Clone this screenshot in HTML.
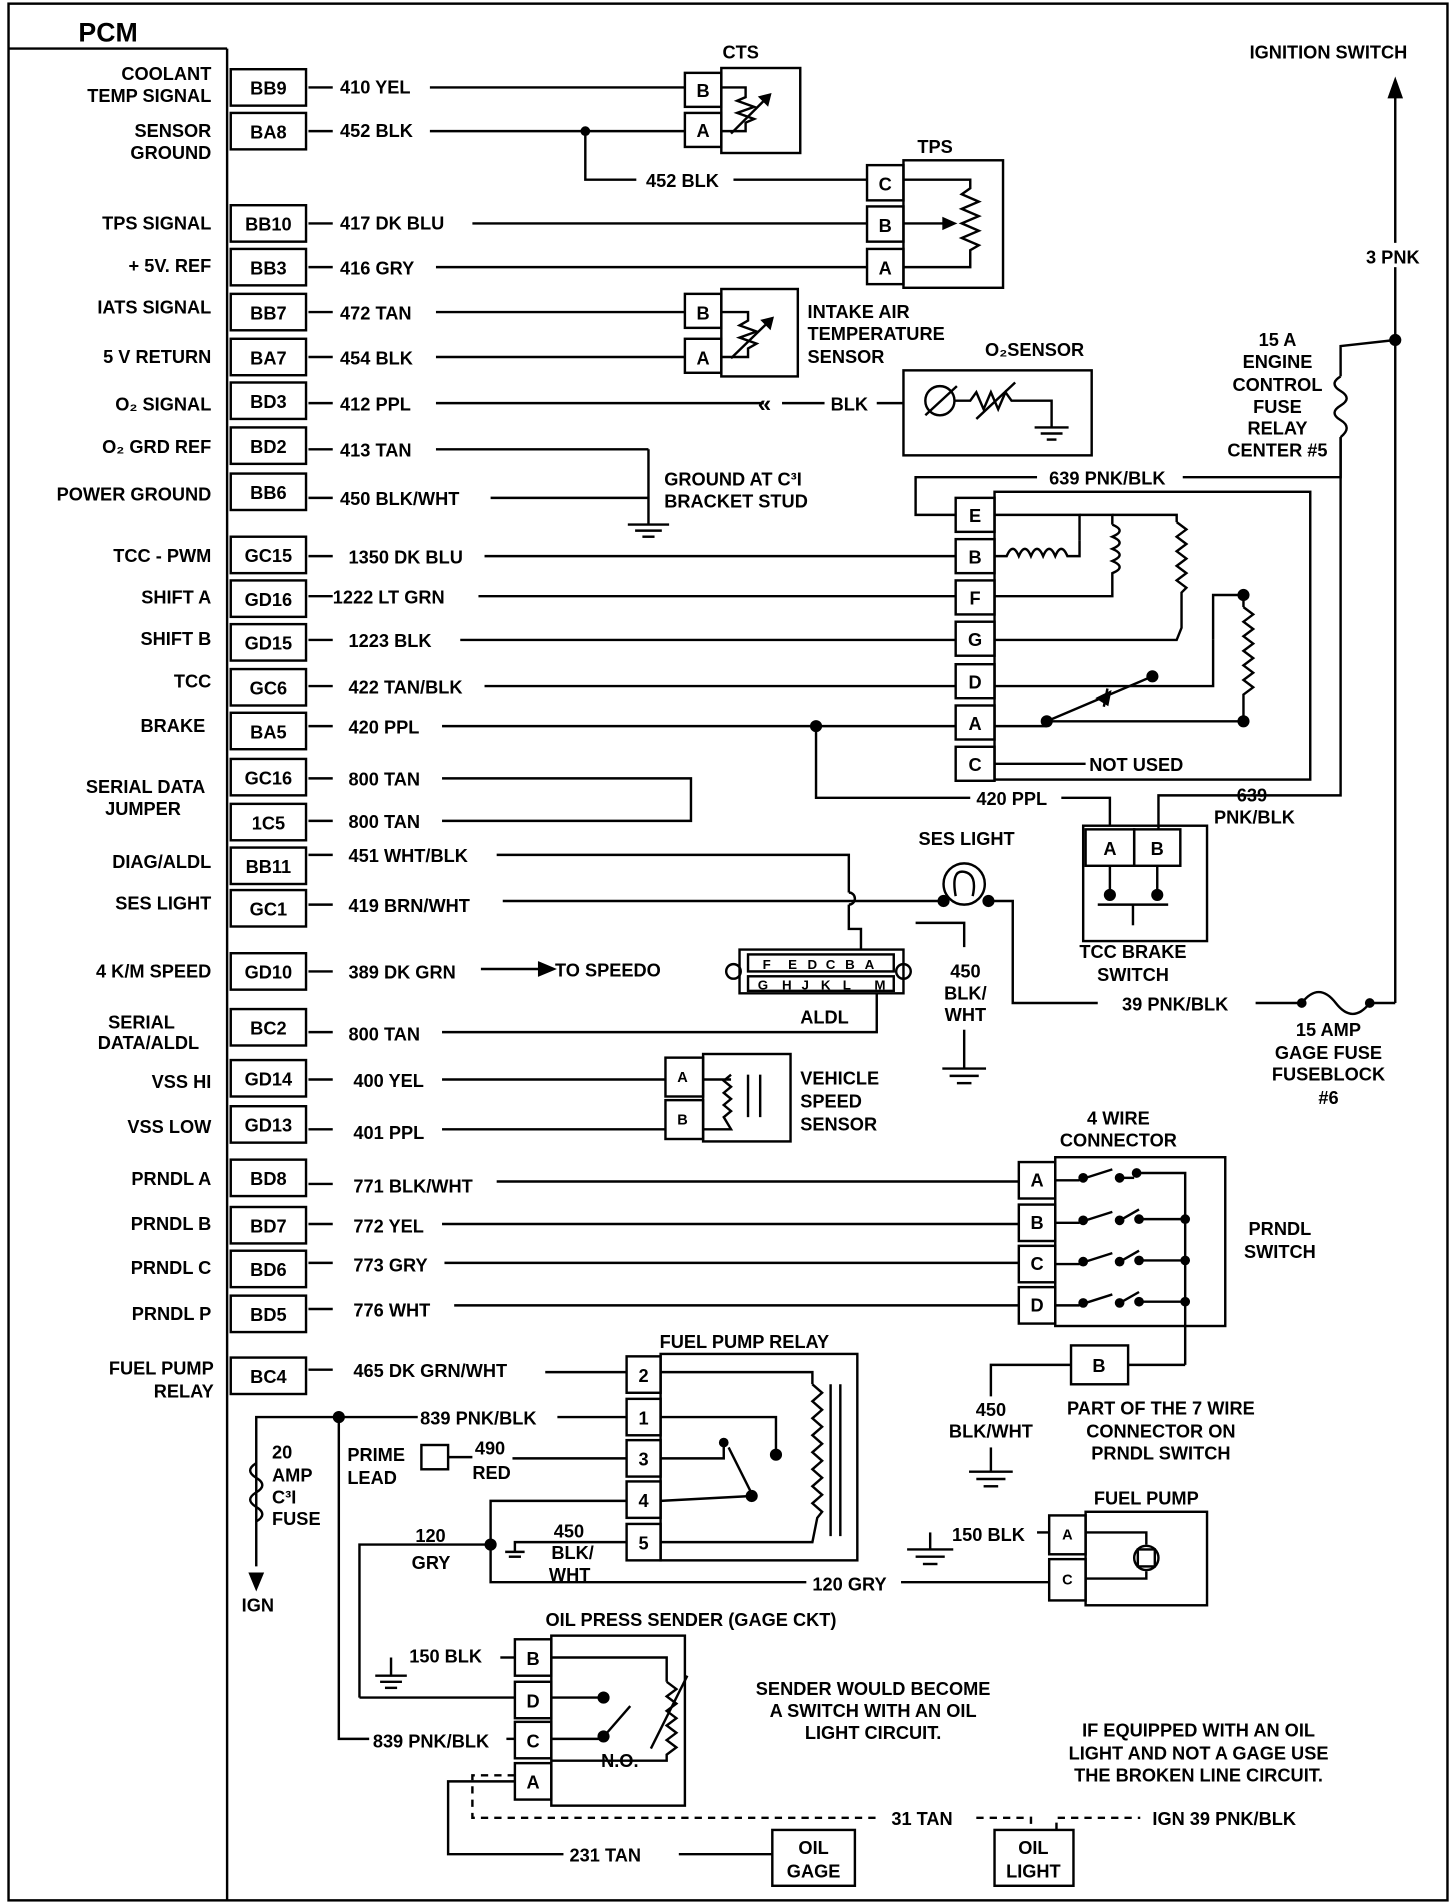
<!DOCTYPE html>
<html><head><meta charset="utf-8"><style>
html,body{margin:0;padding:0;background:#fff}
svg{display:block}
text{font-family:"Liberation Sans",sans-serif;font-weight:bold;font-size:15px;fill:#000}
.r{text-anchor:end}.m{text-anchor:middle}
line,polyline,path,rect,circle{stroke:#000;stroke-width:2;fill:none}
[fill="#000"]{fill:#000}
rect[stroke="none"]{stroke:none;fill:#fff}
.d{stroke-dasharray:6,5}
</style></head><body>
<svg width="1456" height="1904" viewBox="0 0 1191 1568" xmlns="http://www.w3.org/2000/svg">
<rect x="3" y="3" width="1185" height="1562" stroke-width="3"/>
<line x1="3" y1="40" x2="183" y2="40" stroke-width="3"/>
<line x1="183" y1="40" x2="183" y2="1565" stroke-width="3"/>
<text x="85" y="34" class="m" style="font-size:22px">PCM</text>
<g id="pins">
<rect x="186" y="57" width="62" height="30"/><text x="217" y="78" class="m">BB9</text>
<rect x="186" y="93" width="62" height="30"/><text x="217" y="114" class="m">BA8</text>
<rect x="186" y="169" width="62" height="30"/><text x="217" y="190" class="m">BB10</text>
<rect x="186" y="205" width="62" height="30"/><text x="217" y="226" class="m">BB3</text>
<rect x="186" y="242" width="62" height="30"/><text x="217" y="263" class="m">BB7</text>
<rect x="186" y="279" width="62" height="30"/><text x="217" y="300" class="m">BA7</text>
<rect x="186" y="315" width="62" height="30"/><text x="217" y="336" class="m">BD3</text>
<rect x="186" y="352" width="62" height="30"/><text x="217" y="373" class="m">BD2</text>
<rect x="186" y="390" width="62" height="30"/><text x="217" y="411" class="m">BB6</text>
<rect x="186" y="442" width="62" height="30"/><text x="217" y="463" class="m">GC15</text>
<rect x="186" y="478" width="62" height="30"/><text x="217" y="499" class="m">GD16</text>
<rect x="186" y="514" width="62" height="30"/><text x="217" y="535" class="m">GD15</text>
<rect x="186" y="551" width="62" height="30"/><text x="217" y="572" class="m">GC6</text>
<rect x="186" y="587" width="62" height="30"/><text x="217" y="608" class="m">BA5</text>
<rect x="186" y="625" width="62" height="30"/><text x="217" y="646" class="m">GC16</text>
<rect x="186" y="662" width="62" height="30"/><text x="217" y="683" class="m">1C5</text>
<rect x="186" y="698" width="62" height="30"/><text x="217" y="719" class="m">BB11</text>
<rect x="186" y="733" width="62" height="30"/><text x="217" y="754" class="m">GC1</text>
<rect x="186" y="785" width="62" height="30"/><text x="217" y="806" class="m">GD10</text>
<rect x="186" y="831" width="62" height="30"/><text x="217" y="852" class="m">BC2</text>
<rect x="186" y="873" width="62" height="30"/><text x="217" y="894" class="m">GD14</text>
<rect x="186" y="911" width="62" height="30"/><text x="217" y="932" class="m">GD13</text>
<rect x="186" y="955" width="62" height="30"/><text x="217" y="976" class="m">BD8</text>
<rect x="186" y="994" width="62" height="30"/><text x="217" y="1015" class="m">BD7</text>
<rect x="186" y="1030" width="62" height="30"/><text x="217" y="1051" class="m">BD6</text>
<rect x="186" y="1067" width="62" height="30"/><text x="217" y="1088" class="m">BD5</text>
<rect x="186" y="1118" width="62" height="30"/><text x="217" y="1139" class="m">BC4</text>
</g>
<g>
<text x="170" y="66" class="r">COOLANT</text><text x="170" y="84" class="r">TEMP SIGNAL</text>
<text x="170" y="113" class="r">SENSOR</text><text x="170" y="131" class="r">GROUND</text>
<text x="170" y="189" class="r">TPS SIGNAL</text><text x="170" y="224" class="r">+ 5V. REF</text>
<text x="170" y="258" class="r">IATS SIGNAL</text><text x="170" y="299" class="r">5 V RETURN</text>
<text x="170" y="338" class="r">O₂ SIGNAL</text><text x="170" y="373" class="r">O₂ GRD REF</text>
<text x="170" y="412" class="r">POWER GROUND</text>
<text x="170" y="463" class="r">TCC - PWM</text><text x="170" y="497" class="r">SHIFT A</text>
<text x="170" y="531" class="r">SHIFT B</text><text x="170" y="566" class="r">TCC</text>
<text x="165" y="603" class="r">BRAKE</text>
<text x="165" y="653" class="r">SERIAL DATA</text><text x="145" y="671" class="r">JUMPER</text>
<text x="170" y="715" class="r">DIAG/ALDL</text><text x="170" y="749" class="r">SES LIGHT</text>
<text x="170" y="805" class="r">4 K/M SPEED</text>
<text x="140" y="847" class="r">SERIAL</text><text x="160" y="864" class="r">DATA/ALDL</text>
<text x="170" y="896" class="r">VSS HI</text><text x="170" y="933" class="r">VSS LOW</text>
<text x="170" y="976" class="r">PRNDL A</text><text x="170" y="1013" class="r">PRNDL B</text>
<text x="170" y="1049" class="r">PRNDL C</text><text x="170" y="1087" class="r">PRNDL P</text>
<text x="172" y="1132" class="r">FUEL PUMP</text><text x="172" y="1151" class="r">RELAY</text>
</g>
<g>
<line x1="250" y1="72" x2="270" y2="72"/><text x="276" y="77">410 YEL</text><line x1="350" y1="72" x2="560" y2="72"/>
<line x1="250" y1="108" x2="270" y2="108"/><text x="276" y="113">452 BLK</text><line x1="350" y1="108" x2="560" y2="108"/>
<circle cx="478" cy="108" r="3" fill="#000"/><polyline points="478,108 478,148 520,148"/><text x="528" y="154">452 BLK</text><line x1="600" y1="148" x2="710" y2="148"/>
<line x1="250" y1="184" x2="270" y2="184"/><text x="276" y="189">417 DK BLU</text><line x1="385" y1="184" x2="710" y2="184"/>
<line x1="250" y1="220" x2="270" y2="220"/><text x="276" y="226">416 GRY</text><line x1="355" y1="220" x2="710" y2="220"/>
<line x1="250" y1="257" x2="270" y2="257"/><text x="276" y="263">472 TAN</text><line x1="355" y1="257" x2="560" y2="257"/>
<line x1="250" y1="294" x2="270" y2="294"/><text x="276" y="300">454 BLK</text><line x1="355" y1="294" x2="560" y2="294"/>
<line x1="250" y1="332" x2="270" y2="332"/><text x="276" y="338">412 PPL</text><line x1="355" y1="332" x2="625" y2="332"/>
<text x="620" y="339" style="font-size:20px">«</text><line x1="640" y1="332" x2="675" y2="332"/><text x="680" y="338">BLK</text><line x1="718" y1="332" x2="740" y2="332"/>
<line x1="250" y1="370" x2="270" y2="370"/><text x="276" y="376">413 TAN</text><line x1="355" y1="370" x2="530" y2="370"/>
<line x1="250" y1="410" x2="270" y2="410"/><text x="276" y="416">450 BLK/WHT</text><line x1="400" y1="410" x2="530" y2="410"/>
<line x1="530" y1="370" x2="530" y2="432"/><line x1="513" y1="432" x2="547" y2="432"/><line x1="519" y1="437" x2="541" y2="437"/><line x1="525" y1="442" x2="535" y2="442"/>
<text x="543" y="400">GROUND AT C³I</text><text x="543" y="418">BRACKET STUD</text>
<line x1="250" y1="458" x2="270" y2="458"/><text x="283" y="464">1350 DK BLU</text><line x1="395" y1="458" x2="783" y2="458"/>
<line x1="250" y1="491" x2="270" y2="491"/><text x="270" y="497">1222 LT GRN</text><line x1="390" y1="491" x2="783" y2="491"/>
<line x1="250" y1="527" x2="270" y2="527"/><text x="283" y="533">1223 BLK</text><line x1="375" y1="527" x2="783" y2="527"/>
<line x1="250" y1="565" x2="270" y2="565"/><text x="283" y="571">422 TAN/BLK</text><line x1="395" y1="565" x2="783" y2="565"/>
<line x1="250" y1="598" x2="270" y2="598"/><text x="283" y="604">420 PPL</text><line x1="360" y1="598" x2="783" y2="598"/>
<circle cx="668" cy="598" r="4" fill="#000"/><polyline points="668,598 668,657 795,657"/><text x="800" y="663">420 PPL</text><polyline points="870,657 910,657 910,680"/>
<line x1="250" y1="641" x2="270" y2="641"/><text x="283" y="647">800 TAN</text><polyline points="360,641 565,641 565,676 360,676"/>
<line x1="250" y1="676" x2="270" y2="676"/><text x="283" y="682">800 TAN</text>
<line x1="250" y1="704" x2="270" y2="704"/><text x="283" y="710">451 WHT/BLK</text><polyline points="405,704 695,704 695,735"/><path d="M695,735 a5,5 0 0 1 0,10"/><polyline points="695,745 695,765 705,765 705,782"/>
<line x1="250" y1="745" x2="270" y2="745"/><text x="283" y="751">419 BRN/WHT</text><line x1="410" y1="742" x2="773" y2="742"/>
<line x1="250" y1="800" x2="270" y2="800"/><text x="283" y="806">389 DK GRN</text><line x1="392" y1="798" x2="450" y2="798"/><path d="M440,793 L452,798 L440,803 Z" fill="#000"/><text x="453" y="804">TO SPEEDO</text>
<line x1="250" y1="850" x2="270" y2="850"/><text x="283" y="857">800 TAN</text><polyline points="360,850 718,850 718,818"/>
<line x1="250" y1="889" x2="270" y2="889"/><text x="287" y="895">400 YEL</text><line x1="360" y1="889" x2="544" y2="889"/>
<line x1="250" y1="930" x2="270" y2="930"/><text x="287" y="938">401 PPL</text><line x1="360" y1="930" x2="544" y2="930"/>
<line x1="250" y1="975" x2="270" y2="975"/><text x="287" y="982">771 BLK/WHT</text><line x1="405" y1="973" x2="835" y2="973"/>
<line x1="250" y1="1008" x2="270" y2="1008"/><text x="287" y="1015">772 YEL</text><line x1="360" y1="1008" x2="835" y2="1008"/>
<line x1="250" y1="1040" x2="270" y2="1040"/><text x="287" y="1047">773 GRY</text><line x1="362" y1="1040" x2="835" y2="1040"/>
<line x1="250" y1="1078" x2="270" y2="1078"/><text x="287" y="1084">776 WHT</text><line x1="370" y1="1075" x2="835" y2="1075"/>
<line x1="250" y1="1128" x2="270" y2="1128"/><text x="287" y="1134">465 DK GRN/WHT</text><line x1="445" y1="1130" x2="512" y2="1130"/>
</g>
<text x="606" y="48" class="m">CTS</text>
<rect x="590" y="56" width="65" height="70"/>
<rect x="560" y="60" width="30" height="28"/><text x="575" y="80" class="m">B</text>
<rect x="560" y="93" width="30" height="28"/><text x="575" y="113" class="m">A</text>
<polyline points="590,72 610,72 610,80 603,83 617,88 603,93 617,98 610,101 610,108 590,108"/><line x1="598" y1="110" x2="630" y2="78"/><path d="M630,78 l-8,2 l6,6 z" fill="#000"/>
<text x="766" y="126" class="m">TPS</text>
<rect x="740" y="132" width="82" height="105"/>
<rect x="710" y="136" width="30" height="29"/><text x="725" y="157" class="m">C</text>
<rect x="710" y="170" width="30" height="29"/><text x="725" y="191" class="m">B</text>
<rect x="710" y="205" width="30" height="29"/><text x="725" y="226" class="m">A</text>
<polyline points="740,148 795,148 795,155 788,160 802,166 788,172 802,178 788,184 802,190 788,196 802,202 795,206 795,220 740,220"/>
<line x1="740" y1="184" x2="780" y2="184"/><path d="M782,184 l-9,-4 l0,8 z" fill="#000"/>
<rect x="590" y="238" width="63" height="72"/>
<rect x="560" y="242" width="30" height="28"/><text x="575" y="263" class="m">B</text>
<rect x="560" y="279" width="30" height="28"/><text x="575" y="300" class="m">A</text>
<polyline points="590,257 612,257 612,264 605,268 619,273 605,278 619,283 612,287 612,294 590,294"/><line x1="598" y1="295" x2="632" y2="262"/><path d="M632,262 l-8,2 l6,6 z" fill="#000"/>
<text x="661" y="262">INTAKE AIR</text><text x="661" y="280">TEMPERATURE</text><text x="661" y="299">SENSOR</text>
<text x="848" y="293" class="m">O₂SENSOR</text>
<rect x="740" y="305" width="155" height="70"/>
<circle cx="770" cy="330" r="12"/><line x1="758" y1="342" x2="784" y2="318"/>
<polyline points="782,330 795,330 800,323 806,337 812,323 818,337 824,323 829,330 862,330 862,352"/><line x1="800" y1="345" x2="832" y2="315"/>
<line x1="848" y1="352" x2="876" y2="352"/><line x1="853" y1="357" x2="871" y2="357"/><line x1="858" y1="362" x2="866" y2="362"/>
<rect x="815" y="405" width="260" height="237"/>
<g>
<rect x="783" y="410" width="32" height="28"/><text x="799" y="430" class="m">E</text>
<rect x="783" y="444" width="32" height="28"/><text x="799" y="464" class="m">B</text>
<rect x="783" y="478" width="32" height="28"/><text x="799" y="498" class="m">F</text>
<rect x="783" y="512" width="32" height="28"/><text x="799" y="532" class="m">G</text>
<rect x="783" y="547" width="32" height="28"/><text x="799" y="567" class="m">D</text>
<rect x="783" y="581" width="32" height="28"/><text x="799" y="601" class="m">A</text>
<rect x="783" y="615" width="32" height="28"/><text x="799" y="635" class="m">C</text>
</g>
<polyline points="783,424 750,424 750,393 850,393"/><text x="860" y="399">639 PNK/BLK</text><polyline points="970,393 1100,393 1100,360"/>
<polyline points="815,424 885,424 885,445"/>
<path d="M815,458 L825,458 q5,-12 10,0 q5,-12 10,0 q5,-12 10,0 q5,-12 10,0 q5,-12 10,0 L885,458 L885,445"/>
<polyline points="885,424 912,424 912,432"/><path d="M912,432 q12,5 0,10 q12,5 0,10 q12,5 0,10 q12,5 0,10 L912,491 L815,491"/>
<polyline points="912,424 965,424 965,430"/><path d="M965,430 l8,6 l-8,6 l8,6 l-8,6 l8,6 l-8,6 l8,6 l-8,6 l8,6 l-4,4 L969,517 L965,527 L815,527"/>
<circle cx="1020" cy="490" r="4" fill="#000"/><polyline points="995,527 995,490 1020,490 1020,500"/><path d="M1020,500 l8,6 l-8,6 l8,6 l-8,6 l8,6 l-8,6 l8,6 l-8,6 l8,6 l-8,6 l8,6 l-8,6 L1020,592"/>
<polyline points="815,565 945,565 995,565 995,527"/><circle cx="945" cy="557" r="4" fill="#000"/>
<polyline points="815,598 858,598"/><circle cx="858" cy="594" r="4" fill="#000"/><line x1="858" y1="594" x2="945" y2="557"/><line x1="908" y1="567" x2="905" y2="582"/><path d="M900,575 l10,-5 l-2,10 z" fill="#000"/>
<polyline points="858,594 1020,594"/><circle cx="1020" cy="594" r="4" fill="#000"/>
<line x1="815" y1="629" x2="890" y2="629"/><text x="893" y="635">NOT USED</text>
<rect x="888" y="680" width="102" height="95"/>
<rect x="890" y="683" width="40" height="30"/><text x="910" y="704" class="m">A</text>
<rect x="930" y="683" width="38" height="30"/><text x="949" y="704" class="m">B</text>
<polyline points="910,713 910,735"/><polyline points="949,713 949,735"/><circle cx="910" cy="737" r="4" fill="#000"/><circle cx="949" cy="737" r="4" fill="#000"/><polyline points="900,745 958,745"/><line x1="929" y1="745" x2="929" y2="762"/>
<text x="929" y="789" class="m">TCC BRAKE</text><text x="929" y="808" class="m">SWITCH</text>
<polyline points="950,683 950,655 1100,655 1100,360"/>
<text x="1027" y="660" class="m">639</text><text x="1029" y="678" class="m">PNK/BLK</text>
<polyline points="1100,310 1100,285 1145,280"/><path d="M1100,310 q-10,6 0,12 q10,6 0,12 q-10,6 0,12 q10,6 0,14"/>
<circle cx="1145" cy="280" r="4" fill="#000"/>
<line x1="1145" y1="70" x2="1145" y2="826"/><path d="M1140,80 L1145,66 L1150,80 Z" fill="#000"/>
<text x="1090" y="48" class="m">IGNITION SWITCH</text>
<rect x="1115" y="200" width="55" height="20" stroke="none"/><text x="1143" y="217" class="m">3 PNK</text>
<text x="1048" y="285" class="m">15 A</text><text x="1048" y="303" class="m">ENGINE</text><text x="1048" y="322" class="m">CONTROL</text><text x="1048" y="340" class="m">FUSE</text><text x="1048" y="358" class="m">RELAY</text><text x="1048" y="376" class="m">CENTER #5</text>
<text x="792" y="696" class="m">SES LIGHT</text>
<circle cx="790" cy="728" r="17"/><path d="M783,738 q-4,-22 7,-20 q11,2 7,20"/>
<circle cx="773" cy="742" r="4" fill="#000"/><circle cx="810" cy="742" r="4" fill="#000"/>
<polyline points="810,742 830,742 830,826 900,826"/><text x="920" y="832">39 PNK/BLK</text><line x1="1030" y1="826" x2="1065" y2="826"/>
<circle cx="1068" cy="826" r="3" fill="#000"/><path d="M1068,826 q14,-18 28,0 q14,18 28,0"/><circle cx="1124" cy="826" r="3" fill="#000"/><line x1="1124" y1="826" x2="1145" y2="826"/>
<text x="1090" y="853" class="m">15 AMP</text><text x="1090" y="872" class="m">GAGE FUSE</text><text x="1090" y="890" class="m">FUSEBLOCK</text><text x="1090" y="909" class="m">#6</text>
<polyline points="750,760 790,760 790,780"/>
<path d="M605,782 L740,782 L740,818 L605,818 Z"/><circle cx="600" cy="800" r="6"/><circle cx="740" cy="800" r="6"/>
<rect x="612" y="786" width="120" height="14"/><rect x="612" y="804" width="120" height="12"/>
<text x="624" y="798" style="font-size:11px">F</text><text x="645" y="798" style="font-size:11px">E</text><text x="661" y="798" style="font-size:11px">D</text><text x="676" y="798" style="font-size:11px">C</text><text x="692" y="798" style="font-size:11px">B</text><text x="708" y="798" style="font-size:11px">A</text>
<text x="620" y="815" style="font-size:11px">G</text><text x="640" y="815" style="font-size:11px">H</text><text x="656" y="815" style="font-size:11px">J</text><text x="672" y="815" style="font-size:11px">K</text><text x="690" y="815" style="font-size:11px">L</text><text x="716" y="815" style="font-size:11px">M</text>
<text x="675" y="843" class="m">ALDL</text>
<text x="791" y="805" class="m">450</text><text x="791" y="823" class="m">BLK/</text><text x="791" y="841" class="m">WHT</text>
<line x1="790" y1="848" x2="790" y2="880"/><line x1="772" y1="880" x2="808" y2="880"/><line x1="778" y1="886" x2="802" y2="886"/><line x1="784" y1="892" x2="796" y2="892"/>
<rect x="575" y="868" width="72" height="72"/>
<rect x="544" y="871" width="31" height="32"/><text x="558" y="891" class="m" style="font-size:12px">A</text>
<rect x="544" y="906" width="31" height="32"/><text x="558" y="926" class="m" style="font-size:12px">B</text>
<polyline points="575,889 598,889"/><path d="M598,885 l-6,5 l6,5 l-6,5 l6,5 l-6,5 l6,5 l-6,5 L598,930 L575,930"/>
<line x1="612" y1="885" x2="612" y2="920"/><line x1="622" y1="885" x2="622" y2="920"/>
<text x="655" y="893">VEHICLE</text><text x="655" y="912">SPEED</text><text x="655" y="931">SENSOR</text>
<text x="917" y="926" class="m">4 WIRE</text><text x="917" y="944" class="m">CONNECTOR</text>
<rect x="865" y="953" width="140" height="139"/>
<rect x="835" y="957" width="30" height="30"/><text x="850" y="977" class="m">A</text>
<rect x="835" y="992" width="30" height="30"/><text x="850" y="1012" class="m">B</text>
<rect x="835" y="1026" width="30" height="30"/><text x="850" y="1046" class="m">C</text>
<rect x="835" y="1060" width="30" height="30"/><text x="850" y="1080" class="m">D</text>
<g>
<line x1="865" y1="972" x2="885" y2="972"/><circle cx="888" cy="970" r="3" fill="#000"/><line x1="890" y1="970" x2="912" y2="963"/><circle cx="918" cy="970" r="3" fill="#000"/><polyline points="920,970 930,970"/><circle cx="932" cy="966" r="3" fill="#000"/>
<line x1="865" y1="1007" x2="885" y2="1007"/><circle cx="888" cy="1005" r="3" fill="#000"/><line x1="890" y1="1005" x2="912" y2="998"/><circle cx="918" cy="1005" r="3" fill="#000"/><line x1="920" y1="1004" x2="934" y2="996"/><circle cx="934" cy="1004" r="3" fill="#000"/>
<line x1="865" y1="1041" x2="885" y2="1041"/><circle cx="888" cy="1039" r="3" fill="#000"/><line x1="890" y1="1039" x2="912" y2="1032"/><circle cx="918" cy="1039" r="3" fill="#000"/><line x1="920" y1="1038" x2="934" y2="1030"/><circle cx="934" cy="1038" r="3" fill="#000"/>
<line x1="865" y1="1075" x2="885" y2="1075"/><circle cx="888" cy="1073" r="3" fill="#000"/><line x1="890" y1="1073" x2="912" y2="1066"/><circle cx="918" cy="1073" r="3" fill="#000"/><line x1="920" y1="1072" x2="934" y2="1064"/><circle cx="934" cy="1072" r="3" fill="#000"/>
<polyline points="934,966 972,966 972,1124"/>
<line x1="934" y1="1004" x2="972" y2="1004"/><line x1="934" y1="1038" x2="972" y2="1038"/><line x1="934" y1="1072" x2="972" y2="1072"/>
<circle cx="972" cy="1004" r="3" fill="#000"/><circle cx="972" cy="1038" r="3" fill="#000"/><circle cx="972" cy="1072" r="3" fill="#000"/>
</g>
<text x="1050" y="1017" class="m">PRNDL</text><text x="1050" y="1036" class="m">SWITCH</text>
<rect x="878" y="1108" width="47" height="32"/><text x="901" y="1130" class="m">B</text>
<line x1="925" y1="1124" x2="972" y2="1124"/>
<polyline points="878,1124 812,1124 812,1150"/>
<text x="812" y="1166" class="m">450</text><text x="812" y="1184" class="m">BLK/WHT</text>
<line x1="812" y1="1192" x2="812" y2="1212"/><line x1="794" y1="1212" x2="830" y2="1212"/><line x1="800" y1="1218" x2="824" y2="1218"/><line x1="806" y1="1224" x2="818" y2="1224"/>
<text x="952" y="1165" class="m">PART OF THE 7 WIRE</text><text x="952" y="1184" class="m">CONNECTOR ON</text><text x="952" y="1202" class="m">PRNDL SWITCH</text>
<text x="609" y="1110" class="m">FUEL PUMP RELAY</text>
<rect x="540" y="1115" width="162" height="170"/>
<rect x="512" y="1117" width="28" height="30"/><text x="526" y="1138" class="m">2</text>
<rect x="512" y="1152" width="28" height="30"/><text x="526" y="1173" class="m">1</text>
<rect x="512" y="1186" width="28" height="30"/><text x="526" y="1207" class="m">3</text>
<rect x="512" y="1220" width="28" height="30"/><text x="526" y="1241" class="m">4</text>
<rect x="512" y="1255" width="28" height="30"/><text x="526" y="1276" class="m">5</text>
<polyline points="540,1130 665,1130 665,1140"/><path d="M665,1140 l8,7 l-8,7 l8,7 l-8,7 l8,7 l-8,7 l8,7 l-8,7 l8,7 l-8,7 l8,7 l-8,7 l8,7 l-8,7 l8,7 l-4,5 L665,1270 L540,1270"/>
<line x1="680" y1="1140" x2="680" y2="1265"/><line x1="688" y1="1140" x2="688" y2="1265"/>
<polyline points="540,1167 635,1167 635,1195"/><circle cx="635" cy="1198" r="4" fill="#000"/>
<polyline points="540,1201 592,1201 592,1190"/><circle cx="592" cy="1188" r="3" fill="#000"/><line x1="596" y1="1192" x2="615" y2="1230"/><circle cx="615" cy="1232" r="4" fill="#000"/><polyline points="615,1232 540,1236"/>
<circle cx="275" cy="1167" r="4" fill="#000"/><polyline points="207,1290 207,1167 340,1167"/><text x="342" y="1173">839 PNK/BLK</text><line x1="455" y1="1167" x2="512" y2="1167"/>
<path d="M207,1205 q-10,6 0,12 q10,6 0,12 q-10,6 0,12 q10,6 0,12"/>
<path d="M202,1296 L207,1308 L212,1296 Z" fill="#000"/>
<text x="220" y="1201">20</text><text x="220" y="1220">AMP</text><text x="220" y="1238">C³I</text><text x="220" y="1256">FUSE</text>
<text x="195" y="1327">IGN</text>
<polyline points="275,1167 275,1432 300,1432"/><text x="303" y="1439">839 PNK/BLK</text><line x1="413" y1="1432" x2="420" y2="1432"/>
<text x="282" y="1203">PRIME</text><text x="282" y="1222">LEAD</text>
<rect x="343" y="1190" width="22" height="20"/><line x1="365" y1="1200" x2="385" y2="1200"/><text x="387" y="1198">490</text><text x="385" y="1218">RED</text><line x1="418" y1="1201" x2="512" y2="1201"/>
<polyline points="512,1236 400,1236 400,1303 660,1303"/><text x="665" y="1310">120 GRY</text><polyline points="738,1303 860,1303"/>
<circle cx="400" cy="1272" r="4" fill="#000"/><polyline points="292,1398 292,1272 400,1272"/><text x="338" y="1270">120</text><text x="335" y="1292">GRY</text>
<polyline points="512,1270 420,1270 420,1278"/><line x1="412" y1="1278" x2="428" y2="1278"/><line x1="415" y1="1282" x2="425" y2="1282"/>
<text x="452" y="1266">450</text><text x="450" y="1284">BLK/</text><text x="448" y="1302">WHT</text>
<text x="940" y="1239" class="m">FUEL PUMP</text>
<rect x="890" y="1245" width="100" height="77"/>
<rect x="860" y="1248" width="30" height="32"/><text x="875" y="1268" class="m" style="font-size:12px">A</text>
<rect x="860" y="1284" width="30" height="34"/><text x="875" y="1305" class="m" style="font-size:12px">C</text>
<polyline points="890,1262 940,1262 940,1272"/><circle cx="940" cy="1283" r="10"/><rect x="933" y="1276" width="14" height="14"/><polyline points="940,1294 940,1300 890,1300"/>
<text x="780" y="1269">150 BLK</text><polyline points="860,1262 850,1262"/><polyline points="762,1262 762,1276"/><line x1="743" y1="1276" x2="781" y2="1276"/><line x1="750" y1="1282" x2="774" y2="1282"/><line x1="756" y1="1288" x2="768" y2="1288"/>
<text x="565" y="1339" class="m">OIL PRESS SENDER  (GAGE CKT)</text>
<rect x="450" y="1347" width="110" height="140"/>
<rect x="420" y="1350" width="30" height="30"/><text x="435" y="1371" class="m">B</text>
<rect x="420" y="1385" width="30" height="30"/><text x="435" y="1406" class="m">D</text>
<rect x="420" y="1418" width="30" height="30"/><text x="435" y="1439" class="m">C</text>
<rect x="420" y="1452" width="30" height="30"/><text x="435" y="1473" class="m">A</text>
<polyline points="450,1365 545,1365 545,1385"/><path d="M545,1385 l8,6 l-8,6 l8,6 l-8,6 l8,6 l-8,6 l8,6 l-8,6 l8,6 l-8,6 L545,1450 L450,1450"/><line x1="532" y1="1440" x2="562" y2="1380"/>
<polyline points="450,1398 490,1398"/><circle cx="493" cy="1398" r="4" fill="#000"/>
<polyline points="450,1432 490,1432"/><circle cx="493" cy="1430" r="4" fill="#000"/><line x1="495" y1="1428" x2="515" y2="1405"/>
<text x="491" y="1455">N.O.</text>
<line x1="292" y1="1398" x2="420" y2="1398"/>
<text x="333" y="1369">150 BLK</text><line x1="408" y1="1365" x2="420" y2="1365"/><polyline points="318,1365 318,1380"/><line x1="305" y1="1380" x2="331" y2="1380"/><line x1="309" y1="1385" x2="327" y2="1385"/><line x1="313" y1="1390" x2="323" y2="1390"/>
<text x="715" y="1396" class="m">SENDER WOULD BECOME</text><text x="715" y="1414" class="m">A SWITCH WITH AN OIL</text><text x="715" y="1432" class="m">LIGHT CIRCUIT.</text>
<text x="983" y="1430" class="m">IF EQUIPPED WITH AN OIL</text><text x="983" y="1449" class="m">LIGHT AND NOT A GAGE USE</text><text x="983" y="1467" class="m">THE BROKEN LINE CIRCUIT.</text>
<polyline points="420,1467 365,1467 365,1527 460,1527"/><text x="465" y="1533">231 TAN</text><line x1="555" y1="1527" x2="632" y2="1527"/>
<polyline class="d" points="420,1462 385,1462 385,1497 720,1497"/><text x="730" y="1503">31 TAN</text><polyline class="d" points="800,1497 845,1497 845,1507"/>
<polyline class="d" points="866,1507 866,1497 935,1497"/><text x="945" y="1503">IGN  39 PNK/BLK</text>
<rect x="632" y="1507" width="68" height="46"/><text x="666" y="1527" class="m">OIL</text><text x="666" y="1546" class="m">GAGE</text>
<rect x="815" y="1507" width="65" height="46"/><text x="847" y="1527" class="m">OIL</text><text x="847" y="1546" class="m">LIGHT</text>
</svg>
</body></html>
